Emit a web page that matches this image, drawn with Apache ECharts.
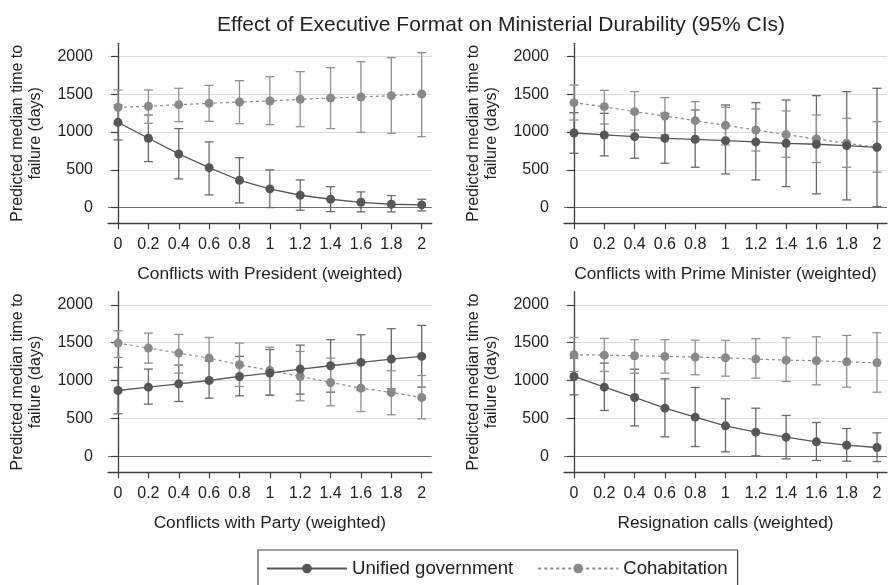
<!DOCTYPE html>
<html><head><meta charset="utf-8">
<script src="https://cdn.jsdelivr.net/npm/echarts@6/dist/echarts.min.js"></script>
<style>html,body{margin:0;padding:0;background:#fff}#c{width:890px;height:585px}</style>
</head><body><div id="c"></div>
<script>
// ---- data ----
const xValues = [0, 0.2, 0.4, 0.6, 0.8, 1, 1.2, 1.4, 1.6, 1.8, 2];
const yTicks = [0, 500, 1000, 1500, 2000];
const chartTitle = 'Effect of Executive Format on Ministerial Durability (95% CIs)';
const yAxisName = 'Predicted median time to\nfailure (days)';
const panelTitles = ['Conflicts with President (weighted)', 'Conflicts with Prime Minister (weighted)', 'Conflicts with Party (weighted)', 'Resignation calls (weighted)'];
const seriesNames = ['Unified government', 'Cohabitation'];

// Conflicts with President
const presUnified   = [1127, 916, 709, 528, 361, 247, 163, 110, 70, 44, 35];
const presUnifiedLo = [894, 608, 379, 167, 62, 0, -35, -53, -57, -57, -44];
const presUnifiedHi = [1356, 1224, 1044, 868, 660, 498, 365, 277, 207, 159, 110];
const presCohab     = [1326, 1339, 1361, 1378, 1396, 1409, 1431, 1449, 1462, 1480, 1502];
const presCohabLo   = [1101, 1114, 1136, 1140, 1110, 1097, 1070, 1044, 995, 982, 938];
const presCohabHi   = [1555, 1555, 1577, 1616, 1678, 1731, 1797, 1850, 1929, 1982, 2048];

// Conflicts with Prime Minister
const pmUnified   = [986, 960, 938, 916, 903, 885, 868, 850, 837, 819, 797];
const pmUnifiedLo = [718, 683, 652, 586, 533, 445, 366, 277, 181, 101, 13];
const pmUnifiedHi = [1255, 1246, 1246, 1246, 1290, 1356, 1387, 1422, 1480, 1533, 1577];
const pmCohab     = [1387, 1334, 1268, 1211, 1149, 1088, 1026, 965, 907, 850, 797];
const pmCohabLo   = [1158, 1105, 1026, 960, 894, 828, 749, 665, 595, 533, 467];
const pmCohabHi   = [1620, 1550, 1533, 1453, 1400, 1325, 1304, 1277, 1224, 1180, 1136];

// Conflicts with Party
const partyUnified   = [870, 914, 958, 1002, 1055, 1099, 1152, 1196, 1240, 1284, 1319];
const partyUnifiedLo = [563, 690, 725, 769, 800, 805, 822, 848, 870, 892, 914];
const partyUnifiedHi = [1174, 1152, 1205, 1260, 1319, 1410, 1468, 1539, 1605, 1684, 1728];
const partyCohab     = [1495, 1429, 1363, 1297, 1209, 1134, 1055, 976, 901, 844, 778];
const partyCohabLo   = [1306, 1231, 1099, 989, 923, 813, 734, 668, 593, 550, 497];
const partyCohabHi   = [1657, 1626, 1609, 1569, 1495, 1440, 1385, 1297, 1231, 1130, 1068];

// Resignation calls
const resUnified   = [1055, 914, 778, 637, 519, 404, 321, 255, 193, 149, 119];
const resUnifiedLo = [813, 607, 404, 259, 132, 62, 9, -31, -53, -62, -66];
const resUnifiedHi = [1297, 1231, 1150, 1024, 910, 761, 637, 541, 448, 369, 312];
const resCohab     = [1341, 1336, 1328, 1319, 1310, 1301, 1284, 1270, 1262, 1248, 1235];
const resCohabLo   = [1121, 1121, 1099, 1099, 1077, 1059, 1033, 989, 945, 914, 848];
const resCohabHi   = [1569, 1556, 1539, 1539, 1534, 1530, 1552, 1565, 1578, 1596, 1631];

// ---- chart ----
const panels = [
  {u: presUnified, uLo: presUnifiedLo, uHi: presUnifiedHi, c: presCohab, cLo: presCohabLo, cHi: presCohabHi},
  {u: pmUnified, uLo: pmUnifiedLo, uHi: pmUnifiedHi, c: pmCohab, cLo: pmCohabLo, cHi: pmCohabHi},
  {u: partyUnified, uLo: partyUnifiedLo, uHi: partyUnifiedHi, c: partyCohab, cLo: partyCohabLo, cHi: partyCohabHi},
  {u: resUnified, uLo: resUnifiedLo, uHi: resUnifiedHi, c: resCohab, cLo: resCohabLo, cHi: resCohabHi}
];
const grids = [
  {left: 108, top: 43.3, width: 323.7, height: 180},
  {left: 564, top: 43.3, width: 323, height: 180},
  {left: 108, top: 291.7, width: 323.7, height: 180.6},
  {left: 564, top: 291.7, width: 323, height: 180.6}
];
const FONT = 'Liberation Sans, Arial, Helvetica, sans-serif';
const UNI = '#555658';
const UNI_BAR = '#68696b';
const COH = '#88898b';
const COH_BAR = '#8e8f91';
const AXIS = '#3d3d3d';

function barRenderer(color) {
  return function (params, api) {
    const x = api.value(0), lo = api.value(1), hi = api.value(2);
    const p1 = api.coord([x, lo]), p2 = api.coord([x, hi]);
    const hw = 4.5;
    const style = {stroke: color, lineWidth: 1.3, fill: null};
    return {type: 'group', children: [
      {type: 'line', shape: {x1: p1[0], y1: p1[1], x2: p2[0], y2: p2[1]}, style: style},
      {type: 'line', shape: {x1: p1[0] - hw, y1: p1[1], x2: p1[0] + hw, y2: p1[1]}, style: style},
      {type: 'line', shape: {x1: p2[0] - hw, y1: p2[1], x2: p2[0] + hw, y2: p2[1]}, style: style}
    ]};
  };
}

const xAxes = [], yAxes = [], series = [];
panels.forEach((p, i) => {
  xAxes.push({
    type: 'value', gridIndex: i, min: -0.066, max: 2.066,
    name: panelTitles[i], nameLocation: 'middle', nameGap: 42,
    nameTextStyle: {fontSize: 17.3, color: '#222', fontFamily: FONT, lineHeight: 18},
    axisLine: {show: true, onZero: false, lineStyle: {color: AXIS, width: 1.3}},
    axisTick: {show: true, length: 6, customValues: xValues, lineStyle: {color: AXIS, width: 1.2}},
    axisLabel: {customValues: xValues, fontSize: 16, color: '#222', margin: 13, lineHeight: 16, fontFamily: FONT,
      formatter: v => String(+(+v).toFixed(1))},
    splitLine: {show: false}
  });
  yAxes.push({
    type: 'value', gridIndex: i, min: -208, max: 2172,
    name: yAxisName, nameLocation: 'middle', nameGap: 63, nameRotate: 90,
    nameTextStyle: {fontSize: 16, color: '#222', lineHeight: 18.3, fontFamily: FONT},
    axisLine: {show: true, lineStyle: {color: AXIS, width: 1.3}},
    axisTick: {show: true, length: 7, customValues: yTicks, lineStyle: {color: AXIS, width: 1.2}},
    axisLabel: {customValues: yTicks, fontSize: 16, color: '#222', margin: 15, fontFamily: FONT,
      formatter: v => String(Math.round(v))},
    splitLine: {show: true, lineStyle: {color: ['#6e6e6e', '#dadada', '#dadada', '#dadada', '#dadada'], width: 1.2}}
  });
  const uBars = xValues.map((x, k) => [x, p.uLo[k], p.uHi[k]]);
  const cBars = xValues.map((x, k) => [x, p.cLo[k], p.cHi[k]]);
  series.push({
    type: 'custom', name: 'ciU' + i, xAxisIndex: i, yAxisIndex: i, z: 2,
    renderItem: barRenderer(UNI_BAR), encode: {x: 0, y: [1, 2]}, data: uBars, silent: true
  });
  series.push({
    type: 'custom', name: 'ciC' + i, xAxisIndex: i, yAxisIndex: i, z: 2,
    renderItem: barRenderer(COH_BAR), encode: {x: 0, y: [1, 2]}, data: cBars, silent: true
  });
  series.push({
    type: 'line', name: seriesNames[0], xAxisIndex: i, yAxisIndex: i, z: 4,
    data: xValues.map((x, k) => [x, p.u[k]]),
    symbol: 'circle', symbolSize: 9, showSymbol: true,
    lineStyle: {color: UNI, width: 1.3}, itemStyle: {color: UNI}, color: UNI
  });
  series.push({
    type: 'line', name: seriesNames[1], xAxisIndex: i, yAxisIndex: i, z: 3,
    data: xValues.map((x, k) => [x, p.c[k]]),
    symbol: 'circle', symbolSize: 9, showSymbol: true,
    lineStyle: {color: COH, width: 1.2, type: [3, 3]}, itemStyle: {color: COH}, color: COH
  });
});

const chart = echarts.init(document.getElementById('c'), null, {renderer: 'canvas'});
chart.setOption({
  animation: false,
  backgroundColor: '#ffffff',
  textStyle: {fontFamily: FONT},
  title: {text: chartTitle, left: 212, top: 10,
    textStyle: {fontSize: 21, fontWeight: 'normal', color: '#222', fontFamily: FONT}},
  legend: {
    data: seriesNames, left: 258, top: 550, orient: 'horizontal',
    padding: [9, 10, 9, 8], itemGap: 24, itemWidth: 80, itemHeight: 12,
    borderColor: '#444', borderWidth: 1.2,
    textStyle: {fontSize: 18.6, color: '#222', fontFamily: FONT}
  },
  grid: grids,
  xAxis: xAxes,
  yAxis: yAxes,
  series: series
});
</script>
</body></html>
